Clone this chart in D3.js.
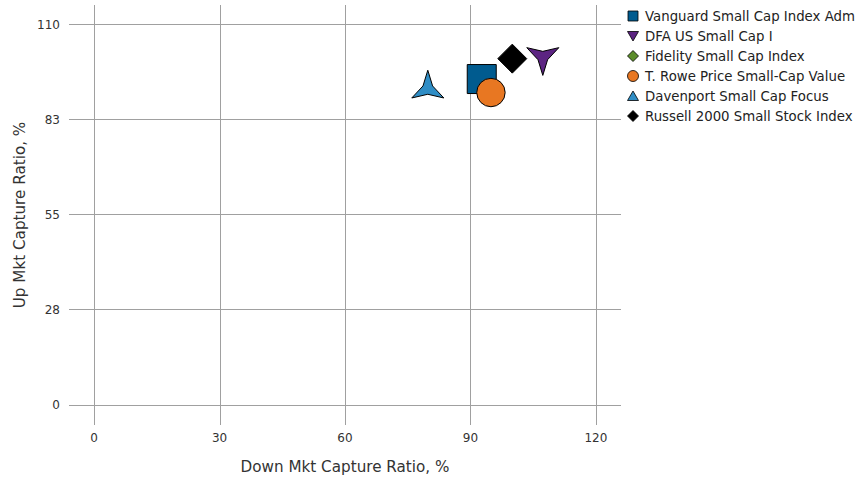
<!DOCTYPE html>
<html><head><meta charset="utf-8">
<script src="https://cdn.jsdelivr.net/npm/d3@7"></script>
<style>body{margin:0;background:#fff}svg{display:block}text{font-family:Verdana,"DejaVu Sans",sans-serif}</style>
</head><body><svg id="c" width="861" height="477"></svg>
<script>
const seriesNames = ["Vanguard Small Cap Index Adm","DFA US Small Cap I","Fidelity Small Cap Index","T. Rowe Price Small-Cap Value","Davenport Small Cap Focus","Russell 2000 Small Stock Index"];
const downCapture = [92.7, 107.3, 94.0, 94.9, 79.8, 100.0];
const upCapture = [94.1, 100.5, 90.5, 90.2, 91.3, 100.0];
const colors = ["#005b8f","#5c2482","#5b8c2a","#e87722","#2f8dc5","#000000"];
const shapes = ["square","star3down","diamond","circle","star3up","diamond"];
const markerSizes = [29, 18.5, 10, 14.2, 18.5, 14.5];
const xTicks = [0,30,60,90,120];
const yTicks = [0,27.5,55,82.5,110];
const drawOrder = [2,0,3,1,4,5];

const svg = d3.select("#c");
const x = d3.scaleLinear().domain([-6,126]).range([69,621]);
const y = d3.scaleLinear().domain([-5.6,115.5]).range([424,5]);

const g = svg.append("g");
g.selectAll(".hl").data(yTicks).join("line")
  .attr("x1",69).attr("x2",621).attr("y1",d=>Math.round(y(d))+0.5).attr("y2",d=>Math.round(y(d))+0.5)
  .attr("stroke","#a0a0a0").attr("stroke-width",1);
g.selectAll(".vl").data(xTicks).join("line")
  .attr("y1",5).attr("y2",425).attr("x1",d=>Math.round(x(d))+0.5).attr("x2",d=>Math.round(x(d))+0.5)
  .attr("stroke","#a0a0a0").attr("stroke-width",1);

g.selectAll(".yl").data(yTicks).join("text")
  .attr("x",60).attr("y",d=>y(d)+4.5).attr("text-anchor","end")
  .attr("font-size","12px").attr("fill","#333").text(d=>d3.format(".0f")(d));
g.selectAll(".xl").data(xTicks).join("text")
  .attr("x",d=>x(d)).attr("y",442).attr("text-anchor","middle")
  .attr("font-size","12px").attr("fill","#333").text(d=>d);

svg.append("text").attr("x",345).attr("y",472).attr("text-anchor","middle")
  .attr("font-size","15.2px").attr("fill","#333").text("Down Mkt Capture Ratio, %");
svg.append("text").attr("transform","translate(25,215) rotate(-90)").attr("text-anchor","middle")
  .attr("font-size","15.2px").attr("fill","#333").text("Up Mkt Capture Ratio, %");

function shapePath(shape, s){
  if(shape==="square") return `M${-s/2},${-s/2}H${s/2}V${s/2}H${-s/2}Z`;
  if(shape==="diamond") return `M0,${-s}L${s},0L0,${s}L${-s},0Z`;
  if(shape==="circle") return d3.arc()({innerRadius:0,outerRadius:s,startAngle:0,endAngle:2*Math.PI});
  if(shape==="star3up"||shape==="star3down"){
    const R=s, r=s*0.3, off = shape==="star3up"?-90:90;
    let p="";
    for(let i=0;i<3;i++){
      const a=(off+i*120)*Math.PI/180, b=(off+i*120+60)*Math.PI/180;
      p+=(i===0?"M":"L")+`${R*Math.cos(a)},${R*Math.sin(a)}L${r*Math.cos(b)},${r*Math.sin(b)}`;
    }
    return p+"Z";
  }
}
function legendPath(shape){
  if(shape==="square") return shapePath("square",10);
  if(shape==="diamond") return shapePath("diamond",5.5);
  if(shape==="circle") return shapePath("circle",5.5);
  if(shape==="star3up") return "M0,-5L5.5,4.5L-5.5,4.5Z";
  if(shape==="star3down") return "M0,5L5.5,-4.5L-5.5,-4.5Z";
}

const pts = svg.append("g");
drawOrder.forEach(i=>{
  pts.append("path").attr("d",shapePath(shapes[i],markerSizes[i]))
    .attr("transform",`translate(${x(downCapture[i])},${y(upCapture[i])})`)
    .attr("fill",colors[i]).attr("stroke","#000").attr("stroke-width",1);
});

const leg = svg.append("g");
seriesNames.forEach((n,i)=>{
  const yy = 16 + i*20;
  leg.append("path").attr("d",legendPath(shapes[i])).attr("transform",`translate(633,${yy})`)
    .attr("fill",colors[i]).attr("stroke","#000").attr("stroke-width",0.8);
  leg.append("text").attr("x",645).attr("y",yy+5).attr("font-size","13.3px").attr("fill","#222").text(n);
});
</script></body></html>
